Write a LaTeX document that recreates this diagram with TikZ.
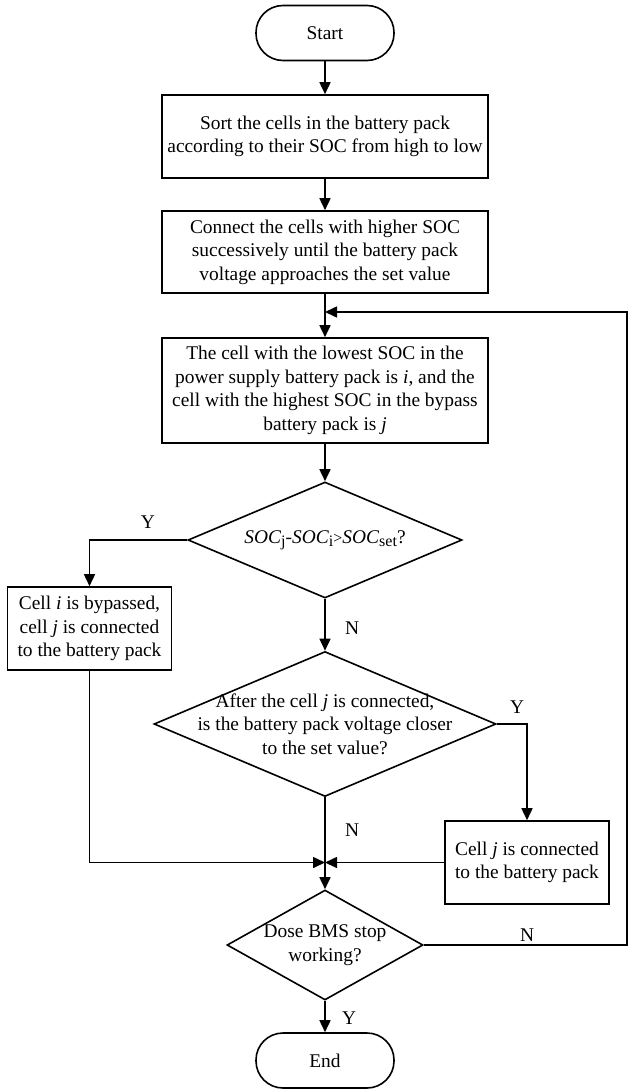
\documentclass[tikz,border=0pt]{standalone}
\usepackage{fontspec}
\setmainfont{Liberation Serif}
\usetikzlibrary{shapes.geometric,arrows.meta}

\begin{document}
\begin{tikzpicture}[x=0.5pt,y=-0.5pt,
  font=\fontsize{9.7}{11.8}\selectfont,
  line width=0.8pt,
  >={Triangle[length=6pt,width=5.5pt]},
  terminal/.style={draw,rounded corners=13.5pt,minimum width=69pt,minimum height=27.5pt,inner sep=0pt},
  procbox/.style={draw,align=center,inner sep=0pt,minimum width=163pt},
  sidebox/.style={draw,align=center,inner sep=0pt,minimum width=82pt,minimum height=41.5pt},
  decision/.style={draw,diamond,inner sep=0pt}]
\useasboundingbox (0,0) rectangle (627,1091);

% Start and first steps
\node[terminal] (start) at (325,33) {Start};
\node[procbox,minimum height=41.5pt] (sort) at (325,136.5)
  {Sort the cells in the battery pack\\according to their SOC from high to low};
\node[procbox,minimum height=41pt] (conn) at (325,252)
  {Connect the cells with higher SOC\\successively until the battery pack\\voltage approaches the set value};
\node[procbox,minimum height=52.5pt] (pick) at (325,390.5)
  {The cell with the lowest SOC in the\\power supply battery pack is \textit{i}, and the\\cell with the highest SOC in the bypass\\battery pack is \textit{j}};

% First decision
\node[decision,minimum width=137pt,minimum height=58pt,
  label={center:\textit{SOC}\raisebox{-0.3ex}{\footnotesize j}-\textit{SOC}\raisebox{-0.3ex}{\footnotesize i}{\footnotesize >}\textit{SOC}\raisebox{-0.3ex}{\footnotesize set}?}] (soc) at (325,540) {};
\node[sidebox] (bypass) at (89.5,628.5)
  {Cell \textit{i} is bypassed,\\cell \textit{j} is connected\\to the battery pack};

% Second decision
\node[decision,minimum width=171pt,minimum height=72.5pt,
  label={[align=center]center:After the cell \textit{j} is connected,\\is the battery pack voltage closer\\to the set value?}] (volt) at (325,724) {};
\node[sidebox] (join) at (527,862.5)
  {Cell \textit{j} is connected\\to the battery pack};
\coordinate (merge) at (325,862.5);

% Stop check and end
\node[decision,minimum width=98pt,minimum height=55pt,
  label={[align=center]center:Dose BMS stop\\working?}] (stop) at (325,945) {};
\node[terminal] (end) at (325,1060.5) {End};

% Feedback loop
\coordinate (loopin) at (325,312);
\coordinate (loopcorner) at (627,312);

% Connectors
\draw[->] (start) -- (sort);
\draw[->] (sort) -- (conn);
\draw[->] (conn) -- (pick);
\draw[->] (pick) -- (soc);
\draw[->] (soc.west) -| (bypass.north);
\draw[->] (soc) -- (volt);
\draw[->] (volt.east) -| (join.north);
\draw[->] (volt) -- (stop);
\draw[->] (bypass.south) |- (merge);
\draw[->] (join.west) -- (merge);
\draw[->] (stop) -- (end);
\draw[->] (stop.east) -| (loopcorner) -- (loopin);

% Y / N labels
\node (y1) at (148,522) {Y};
\node (n1) at (352,628) {N};
\node (y2) at (517,707) {Y};
\node (n2) at (352,830) {N};
\node (n3) at (527,935) {N};
\node (y3) at (349,1018) {Y};
\end{tikzpicture}
\end{document}
